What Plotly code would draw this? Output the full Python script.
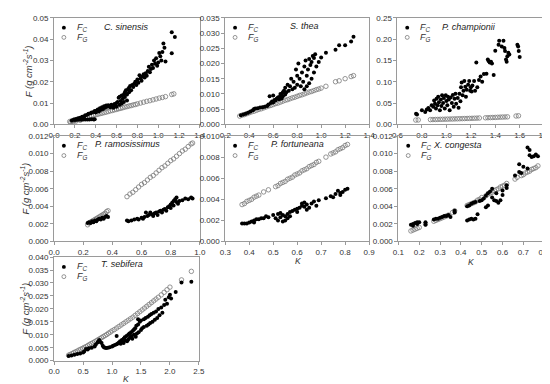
import plotly.graph_objects as go

# ---------------- data ----------------
# Panel 1: C. sinensis
cs_fg_k = [0.15,0.16,0.17,0.18,0.19,0.2,0.21,0.22,0.24,0.25,0.26,0.28,0.3,0.32,0.34,0.36,0.38,0.4,0.42,0.44,0.46,0.48,0.5,0.52,0.54,0.56,0.58,0.6,0.62,0.64,0.66,0.68,0.7,0.72,0.74,0.76,0.78,0.8,0.83,0.86,0.89,0.92,0.95,0.98,1.01,1.04,1.07,1.13,1.15]
cs_fg_f = [0.0013,0.0010,0.0016,0.0012,0.0018,0.0019,0.0015,0.0022,0.0024,0.0019,0.0027,0.0029,0.0032,0.0035,0.0037,0.0040,0.0042,0.0045,0.0047,0.0050,0.0052,0.0055,0.0057,0.0060,0.0063,0.0065,0.0068,0.0070,0.0073,0.0075,0.0078,0.0081,0.0083,0.0086,0.0088,0.0091,0.0093,0.0096,0.0100,0.0104,0.0108,0.0111,0.0115,0.0119,0.0123,0.0126,0.0130,0.0140,0.0143]
cs_fc_k = [0.2,0.22,0.24,0.26,0.28,0.3,0.32,0.34,0.36,0.38,0.39,
           0.17,0.19,0.21,0.23,0.25,0.27,0.29,0.3,0.32,0.33,0.35,0.36,0.38,0.39,0.4,0.41,0.42,0.43,0.44,0.45,0.46,0.47,0.48,0.49,0.5,0.51,0.52,0.53,0.54,0.55,0.56,0.57,0.58,0.59,0.6,0.6,0.61,0.62,0.63,0.63,0.64,0.65,0.65,0.66,0.67,0.67,0.68,0.68,0.69,0.7,0.7,0.71,0.72,0.72,0.73,0.74,0.75,0.76,0.77,0.78,0.79,0.8,0.81,0.82,0.83,0.84,0.85,0.86,0.87,0.88,0.89,0.9,0.91,0.92,0.93,0.94,0.95,0.96,0.97,0.98,0.99,1.0,1.01,1.02,1.03,1.04,1.05,1.06,1.07,1.13,1.13,1.16]
cs_fc_f = [0.0020,0.0021,0.0022,0.0021,0.0022,0.0023,0.0022,0.0023,0.0024,0.0023,0.0024,
           0.0018,0.0022,0.0025,0.0028,0.0031,0.0035,0.0038,0.0042,0.0045,0.0050,0.0052,0.0056,0.0058,0.0062,0.0055,0.0065,0.0070,0.0060,0.0075,0.0068,0.0080,0.0072,0.0085,0.0078,0.0088,0.0082,0.0090,0.0086,0.0080,0.0092,0.0085,0.0078,0.0095,0.0088,0.0100,0.0082,0.0105,0.0125,0.0092,0.0130,0.0110,0.0135,0.0098,0.0120,0.0140,0.0105,0.0150,0.0128,0.0160,0.0140,0.0112,0.0165,0.0172,0.0150,0.0180,0.0160,0.0185,0.0175,0.0190,0.0200,0.0185,0.0210,0.0195,0.0230,0.0215,0.0205,0.0225,0.0235,0.0220,0.0240,0.0228,0.0250,0.0270,0.0245,0.0260,0.0280,0.0265,0.0300,0.0285,0.0310,0.0275,0.0290,0.0335,0.0320,0.0300,0.0340,0.0380,0.0360,0.0295,0.0432,0.0334,0.0410]

# Panel 2: S. thea
st_fg_k = [0.32,0.34,0.36,0.38,0.40,0.42,0.44,0.46,0.48,0.50,0.52,0.54,0.56,0.58,0.60,0.62,0.64,0.66,0.68,0.70,0.72,0.74,0.76,0.78,0.80,0.82,0.84,0.86,0.88,0.90,0.92,0.94,0.96,0.98,1.00,1.04,1.12,1.15,1.20,1.25,1.27]
st_fg_f = [0.0027,0.0030,0.0032,0.0035,0.0038,0.0041,0.0043,0.0046,0.0049,0.0051,0.0054,0.0057,0.0060,0.0062,0.0065,0.0068,0.0070,0.0073,0.0076,0.0079,0.0081,0.0084,0.0087,0.0089,0.0092,0.0095,0.0097,0.0100,0.0103,0.0106,0.0108,0.0111,0.0114,0.0116,0.0119,0.0125,0.0140,0.0143,0.0150,0.0157,0.0160]
st_fc_k = [0.33,0.35,0.37,0.39,0.41,0.43,0.44,0.45,0.47,0.49,0.51,0.53,0.55,0.56,0.57,0.58,0.59,0.6,0.6,0.61,0.62,0.63,0.64,0.65,0.65,0.66,0.67,0.67,0.68,0.68,0.69,0.7,0.7,0.71,0.72,0.73,0.74,0.75,0.76,0.77,0.78,0.79,0.8,0.8,0.81,0.82,0.83,0.84,0.85,0.86,0.87,0.88,0.89,0.9,0.91,0.92,0.93,0.94,0.95,1.0,1.04,1.12,1.15,1.2,1.25,1.27,
           0.86,0.88,0.9,0.92,0.94,0.96,0.98]
st_fc_f = [0.0030,0.0032,0.0035,0.0038,0.0042,0.0046,0.0050,0.0052,0.0053,0.0055,0.0056,0.0058,0.0060,0.0065,0.0092,0.0070,0.0075,0.0095,0.0072,0.0080,0.0078,0.0085,0.0088,0.0090,0.0082,0.0100,0.0095,0.0085,0.0105,0.0092,0.0110,0.0098,0.0120,0.0105,0.0130,0.0110,0.0125,0.0150,0.0115,0.0140,0.0120,0.0180,0.0160,0.0130,0.0200,0.0150,0.0125,0.0170,0.0140,0.0190,0.0210,0.0160,0.0180,0.0215,0.0195,0.0205,0.0225,0.0218,0.0230,0.0220,0.0235,0.0245,0.0260,0.0260,0.0272,0.0288,
           0.0115,0.0125,0.0135,0.0150,0.0170,0.0190,0.0205]

# Panel 3: P. championii
pc_fg_k = [0.75,0.77,0.87,0.89,0.91,0.93,0.95,0.97,0.99,1.01,1.03,1.05,1.07,1.09,1.11,1.13,1.15,1.17,1.19,1.21,1.23,1.25,1.27,1.32,1.34,1.36,1.38,1.40,1.42,1.44,1.46,1.48,1.50,1.57,1.59]
pc_fg_f = [0.0100,0.0102,0.0110,0.0112,0.0113,0.0115,0.0117,0.0118,0.0120,0.0122,0.0124,0.0125,0.0127,0.0129,0.0131,0.0133,0.0135,0.0137,0.0139,0.0141,0.0143,0.0145,0.0148,0.0153,0.0155,0.0158,0.0160,0.0162,0.0165,0.0168,0.0170,0.0172,0.0175,0.0195,0.0200]
pc_fc_k = [0.752,0.76,0.80,0.827,0.84,0.853,0.867,0.88,0.893,0.90,0.907,0.915,0.92,0.928,0.933,0.939,0.947,0.955,0.96,0.965,0.973,0.98,0.987,0.995,1.0,1.008,1.013,1.02,1.027,1.035,1.045,1.053,1.06,1.067,1.075,1.08,1.093,1.10,1.107,1.115,1.12,1.125,1.133,1.14,1.147,1.155,1.16,1.167,1.178,1.187,1.195,1.20,1.207,1.213,1.227,1.235,1.245,1.253,1.267,1.28,1.293,1.307,1.328,1.339,1.347,1.355,1.365,1.373,1.387,1.40,1.427,1.432,1.453,1.467,1.475,1.48,1.488,1.493,1.499,1.507,1.515,1.581,1.587,1.592,1.60]
pc_fc_f = [0.0246,0.023,0.033,0.029,0.035,0.0385,0.033,0.045,0.041,0.056,0.048,0.037,0.060,0.045,0.065,0.052,0.033,0.058,0.043,0.068,0.050,0.062,0.037,0.068,0.055,0.045,0.065,0.058,0.033,0.063,0.050,0.069,0.041,0.060,0.072,0.048,0.062,0.039,0.072,0.054,0.087,0.098,0.068,0.079,0.102,0.088,0.065,0.081,0.093,0.102,0.079,0.087,0.077,0.091,0.102,0.079,0.145,0.087,0.104,0.112,0.100,0.118,0.119,0.152,0.148,0.145,0.147,0.143,0.116,0.173,0.187,0.196,0.183,0.196,0.179,0.172,0.152,0.147,0.160,0.168,0.164,0.187,0.183,0.172,0.158]

# Panel 4: P. ramosissimus
pr_fg_k = [0.23,0.24,0.25,0.26,0.27,0.28,0.29,0.3,0.31,0.32,0.33,0.34,0.35,0.36,0.37,
           0.50,0.52,0.54,0.56,0.58,0.60,0.62,0.64,0.66,0.68,0.70,0.72,0.74,0.76,0.78,0.80,0.82,0.84,0.86,0.88,0.90,0.92,0.94,0.95]
pr_fg_f = [0.0019,0.0021,0.0022,0.0023,0.0024,0.0025,0.0026,0.0027,0.0028,0.0029,0.0030,0.0031,0.0032,0.0034,0.0035,
           0.0051,0.0054,0.0056,0.0059,0.0062,0.0065,0.0067,0.0070,0.0073,0.0075,0.0078,0.0081,0.0084,0.0086,0.0089,0.0092,0.0094,0.0097,0.0100,0.0103,0.0105,0.0108,0.0111,0.0112]
pr_fc_k = [0.23,0.24,0.25,0.26,0.27,0.28,0.29,0.3,0.31,0.32,0.33,0.34,0.35,0.36,0.37,
           0.5,0.51,0.53,0.55,0.57,0.58,0.6,0.61,0.62,0.63,0.64,0.65,0.66,0.67,0.68,0.69,0.7,0.71,0.72,0.73,0.74,0.75,0.76,0.77,0.78,0.79,0.8,0.8,0.81,0.82,0.82,0.83,0.84,0.84,0.85,0.86,0.88,0.9,0.92,0.94,0.95]
pr_fc_f = [0.0021,0.0022,0.0021,0.0023,0.0022,0.0024,0.0023,0.0025,0.0026,0.0025,0.0027,0.0026,0.0028,0.0029,0.0028,
           0.0024,0.0023,0.0024,0.0025,0.0026,0.0025,0.0027,0.0026,0.0028,0.0033,0.0029,0.0030,0.0033,0.0031,0.0029,0.0032,0.0033,0.0030,0.0034,0.0035,0.0033,0.0036,0.0037,0.0035,0.0039,0.0040,0.0042,0.0038,0.0044,0.0046,0.0041,0.0048,0.0050,0.0045,0.0043,0.0046,0.0047,0.0049,0.0048,0.0050,0.0049]

# Panel 5: P. fortuneana
pf_fg_k = [0.37,0.38,0.39,0.40,0.41,0.42,0.43,0.44,0.46,0.48,0.51,0.52,0.53,0.54,0.55,0.56,0.57,0.58,0.59,0.60,0.61,0.62,0.63,0.64,0.65,0.66,0.67,0.68,0.69,0.72,0.74,0.75,0.76,0.77,0.78,0.79,0.80,0.81]
pf_fg_f = [0.0035,0.0036,0.0038,0.0039,0.0040,0.0042,0.0043,0.0044,0.0047,0.0049,0.0052,0.0053,0.0055,0.0056,0.0057,0.0059,0.0060,0.0061,0.0063,0.0064,0.0065,0.0067,0.0068,0.0069,0.0071,0.0072,0.0073,0.0075,0.0076,0.0080,0.0083,0.0084,0.0085,0.0087,0.0088,0.0089,0.0091,0.0092]
pf_fc_k = [0.37,0.38,0.39,0.4,0.41,0.42,0.42,0.43,0.44,0.45,0.46,0.47,0.48,0.5,0.51,0.52,0.52,0.53,0.53,0.54,0.54,0.55,0.55,0.56,0.56,0.57,0.57,0.58,0.59,0.6,0.6,0.61,0.62,0.62,0.63,0.63,0.64,0.64,0.65,0.66,0.67,0.68,0.69,0.72,0.74,0.75,0.76,0.77,0.78,0.78,0.79,0.8,0.81]
pf_fc_f = [0.0017,0.0017,0.0017,0.0018,0.0019,0.0020,0.0018,0.0021,0.0021,0.0022,0.0022,0.0024,0.0023,0.0025,0.0022,0.0026,0.0020,0.0027,0.0023,0.0025,0.0019,0.0024,0.0020,0.0026,0.0022,0.0028,0.0024,0.0029,0.0030,0.0028,0.0031,0.0032,0.0034,0.0036,0.0033,0.0037,0.0030,0.0035,0.0032,0.0036,0.0038,0.0034,0.0039,0.0041,0.0043,0.0042,0.0045,0.0048,0.0046,0.0044,0.0047,0.0049,0.0050]

# Panel 6: X. congesta
xc_fg_k = [0.16,0.17,0.18,0.19,0.2,0.23,0.27,0.28,0.29,0.3,0.31,0.32,0.33,0.34,0.36,0.37,0.43,0.44,0.45,0.46,0.47,0.48,0.49,0.5,0.52,0.53,0.54,0.55,0.56,0.57,0.58,0.59,0.6,0.61,0.62,0.66,0.67,0.69,0.7,0.71,0.72,0.73,0.74,0.75,0.76,0.77]
xc_fg_f = [0.0012,0.0013,0.0014,0.0015,0.0016,0.0020,0.0023,0.0024,0.0025,0.0026,0.0027,0.0028,0.0029,0.0030,0.0033,0.0035,0.0041,0.0042,0.0043,0.0044,0.0045,0.0047,0.0048,0.0050,0.0052,0.0054,0.0055,0.0056,0.0058,0.0059,0.0060,0.0062,0.0063,0.0064,0.0066,0.0071,0.0073,0.0075,0.0076,0.0078,0.0079,0.0080,0.0082,0.0083,0.0084,0.0086]
xc_fc_k = [0.16,0.17,0.17,0.18,0.19,0.19,0.2,0.23,0.23,0.27,0.28,0.29,0.3,0.31,0.32,0.33,0.34,0.35,0.37,0.37,0.43,0.44,0.45,0.46,0.47,0.43,0.44,0.45,0.46,0.47,0.48,0.49,0.5,0.51,0.52,0.53,0.52,0.53,0.54,0.55,0.55,0.56,0.57,0.57,0.58,0.59,0.6,0.6,0.62,0.62,0.66,0.68,0.68,0.69,0.7,0.72,0.72,0.73,0.73,0.74,0.75,0.76,0.77]
xc_fc_f = [0.0019,0.0020,0.0018,0.0021,0.0020,0.0022,0.0022,0.0022,0.0019,0.0025,0.0026,0.0026,0.0027,0.0028,0.0029,0.0029,0.0030,0.0028,0.0035,0.0033,0.0024,0.0025,0.0026,0.0025,0.0026,0.0040,0.0041,0.0043,0.0044,0.0045,0.0031,0.0046,0.0047,0.0049,0.0039,0.0041,0.0052,0.0055,0.0057,0.0050,0.0060,0.0047,0.0046,0.0055,0.0044,0.0047,0.0053,0.0058,0.0064,0.0061,0.0075,0.0088,0.0079,0.0078,0.0085,0.0083,0.0107,0.0104,0.0098,0.0096,0.0097,0.0099,0.0097]

# Panel 7: T. sebifera
ts_fg_k = [0.25,0.28,0.31,0.34,0.37,0.40,0.43,0.46,0.49,0.52,0.55,0.58,0.61,0.64,0.67,0.70,0.73,0.76,0.79,0.82,0.85,0.88,0.91,0.94,0.97,1.00,1.04,1.08,1.12,1.16,1.20,1.24,1.28,1.32,1.36,1.40,1.44,1.48,1.52,1.56,1.60,1.64,1.68,1.72,1.76,1.80,1.85,1.90,1.95,2.00,2.20,2.37]
ts_fg_f = [0.0021,0.0024,0.0027,0.0031,0.0034,0.0037,0.0041,0.0044,0.0047,0.0051,0.0054,0.0058,0.0062,0.0066,0.0069,0.0073,0.0077,0.0081,0.0085,0.0089,0.0093,0.0097,0.0101,0.0106,0.0110,0.0115,0.0120,0.0126,0.0132,0.0138,0.0144,0.0150,0.0156,0.0162,0.0168,0.0175,0.0182,0.0189,0.0196,0.0203,0.0210,0.0217,0.0224,0.0231,0.0238,0.0245,0.0254,0.0264,0.0274,0.0284,0.0312,0.0345]
ts_fc_k = [0.25,0.3,0.35,0.4,0.45,0.5,0.52,0.55,0.58,0.6,0.65,0.7,0.72,0.75,0.77,0.78,0.8,0.82,0.84,0.86,0.88,0.9,0.93,0.96,1.0,1.02,1.05,1.08,1.08,1.1,1.12,1.14,1.15,1.17,1.18,1.2,1.2,1.22,1.23,1.25,1.26,1.28,1.28,1.3,1.31,1.33,1.34,1.35,1.36,1.38,1.38,1.4,1.41,1.42,1.43,1.45,1.45,1.46,1.48,1.5,1.5,1.52,1.55,1.55,1.58,1.6,1.62,1.63,1.65,1.66,1.68,1.7,1.72,1.74,1.76,1.78,1.8,1.82,1.85,1.87,1.9,1.92,1.95,1.98,2.0,2.02,2.1,2.2,2.37]
ts_fc_f = [0.0018,0.0020,0.0023,0.0026,0.0028,0.0031,0.0035,0.0045,0.0043,0.0048,0.0050,0.0055,0.0062,0.0070,0.0075,0.0080,0.0072,0.0068,0.0058,0.0052,0.0050,0.0049,0.0050,0.0052,0.0055,0.0058,0.0060,0.0095,0.0063,0.0066,0.0070,0.0075,0.0065,0.0080,0.0072,0.0085,0.0068,0.0090,0.0078,0.0095,0.0075,0.0100,0.0082,0.0105,0.0088,0.0110,0.0095,0.0085,0.0115,0.0120,0.0100,0.0125,0.0092,0.0135,0.0105,0.0160,0.0140,0.0110,0.0150,0.0155,0.0118,0.0125,0.0160,0.0130,0.0165,0.0135,0.0170,0.0140,0.0175,0.0145,0.0180,0.0150,0.0185,0.0158,0.0190,0.0165,0.0200,0.0175,0.0205,0.0185,0.0215,0.0235,0.0220,0.0245,0.0255,0.0240,0.0265,0.0302,0.0305]

species = ["C. sinensis", "S. thea", "P. championii", "P. ramosissimus",
           "P. fortuneana", "X. congesta", "T. sebifera"]
series = [(cs_fc_k, cs_fc_f, cs_fg_k, cs_fg_f),
          (st_fc_k, st_fc_f, st_fg_k, st_fg_f),
          (pc_fc_k, pc_fc_f, pc_fg_k, pc_fg_f),
          (pr_fc_k, pr_fc_f, pr_fg_k, pr_fg_f),
          (pf_fc_k, pf_fc_f, pf_fg_k, pf_fg_f),
          (xc_fc_k, xc_fc_f, xc_fg_k, xc_fg_f),
          (ts_fc_k, ts_fc_f, ts_fg_k, ts_fg_f)]

x_ranges = [[0, 1.4], [0.2, 1.4], [0.6, 1.8], [0, 1.0], [0.3, 0.9], [0.1, 0.8], [0, 2.5]]
x_dticks = [0.2, 0.2, 0.2, 0.2, 0.1, 0.1, 0.5]
y_ranges = [[0, 0.05], [0, 0.035], [0, 0.25], [0, 0.012], [0, 0.010], [0, 0.012], [0, 0.04]]
y_dticks = [0.01, 0.005, 0.05, 0.002, 0.002, 0.002, 0.005]
y_formats = [".2f", ".3f", ".2f", ".3f", ".3f", ".3f", ".3f"]

# ---------------- layout (pixel boxes) ----------------
W, H = 550, 384
boxes = [(41, 190, 6, 115), (216, 363, 6, 115), (392, 542, 6, 115),
         (41, 190, 127, 235), (216, 363, 127, 235), (393, 542, 127, 235),
         (41, 189, 251, 357)]
# species label centres (pixels)
label_pos = [(115, 15), (297, 14), (465, 15), (116, 135), (290, 135), (453, 136), (110, 258)]

def px(x):
    return x / W

def py(y):
    return 1 - y / H

FONT = "Liberation Sans, Arial, sans-serif"
AX = "#9a9a9a"
fig = go.Figure()
layout = dict(width=W, height=H, margin=dict(l=0, r=0, t=0, b=0),
              paper_bgcolor="white", plot_bgcolor="white", showlegend=False,
              font=dict(family=FONT, size=8, color="#333"))
annotations = []
shapes = []

for i, (fck, fcf, fgk, fgf) in enumerate(series):
    n = "" if i == 0 else str(i + 1)
    xa, ya = "x" + n, "y" + n
    fig.add_trace(go.Scatter(x=fgk, y=fgf, mode="markers", xaxis=xa, yaxis=ya,
                             marker=dict(symbol="circle-open", size=4.5, color="#7a7a7a",
                                         line=dict(width=0.8, color="#7a7a7a")),
                             cliponaxis=True))
    fig.add_trace(go.Scatter(x=fck, y=fcf, mode="markers", xaxis=xa, yaxis=ya,
                             marker=dict(symbol="circle", size=4, color="black", line=dict(width=0)),
                             cliponaxis=True))
    x0, x1, y0, y1 = boxes[i]
    layout["xaxis" + n] = dict(domain=[px(x0), px(x1)], anchor=ya, range=x_ranges[i],
                               dtick=x_dticks[i], tick0=0, tickformat=".1f",
                               showline=True, linecolor=AX, linewidth=1, mirror=True,
                               ticks="outside", ticklen=3, tickcolor=AX, tickwidth=1,
                               showgrid=False, zeroline=False,
                               tickfont=dict(size=8, color="#333", family=FONT))
    layout["yaxis" + n] = dict(domain=[py(y1), py(y0)], anchor=xa, range=y_ranges[i],
                               dtick=y_dticks[i], tick0=0, tickformat=y_formats[i],
                               showline=True, linecolor=AX, linewidth=1, mirror=True,
                               ticks="outside", ticklen=3, tickcolor=AX, tickwidth=1,
                               showgrid=False, zeroline=False,
                               tickfont=dict(size=8, color="#333", family=FONT))
    # species label
    sx, sy = label_pos[i]
    annotations.append(dict(x=px(sx), y=py(sy), xref="paper", yref="paper",
                            xanchor="center", yanchor="middle",
                            text="<i>" + species[i] + "</i>", showarrow=False,
                            font=dict(size=9, color="#222", family=FONT)))
    # legend entries
    lx = x0 + 10
    for j, (lab, filled) in enumerate([("C", True), ("G", False)]):
        ly = y0 + 10 + 10 * j
        shapes.append(dict(type="circle", xref="paper", yref="paper",
                           x0=px(lx - 2), x1=px(lx + 2), y0=py(ly + 2), y1=py(ly - 2),
                           fillcolor="black" if filled else "white",
                           line=dict(color="black" if filled else "#7a7a7a",
                                     width=0 if filled else 0.8)))
        annotations.append(dict(x=px(lx + 11), y=py(ly), xref="paper", yref="paper",
                                xanchor="left", yanchor="middle",
                                text="<i>F<sub>" + lab + "</sub></i>", showarrow=False,
                                font=dict(size=9, color="#333", family=FONT)))

# y-axis titles
ytitle = "<i>F (g cm<sup>-2</sup>s<sup>-1</sup>)</i>"
for (xc, yc) in [(14, 61), (11, 181), (11, 304)]:
    annotations.append(dict(x=px(xc), y=py(yc), xref="paper", yref="paper",
                            xanchor="center", yanchor="middle",
                            text=ytitle, textangle=-90, showarrow=False,
                            font=dict(size=9.5, color="#333", family=FONT)))
# x-axis titles
for (xc, yc) in [(290, 255), (467, 256), (115, 376)]:
    annotations.append(dict(x=px(xc), y=py(yc), xref="paper", yref="paper",
                            xanchor="center", yanchor="middle",
                            text="<i>K</i>", showarrow=False,
                            font=dict(size=8.5, color="#333", family=FONT)))

layout["annotations"] = annotations
layout["shapes"] = shapes
fig.update_layout(**layout)
fig.write_html("out.html")
